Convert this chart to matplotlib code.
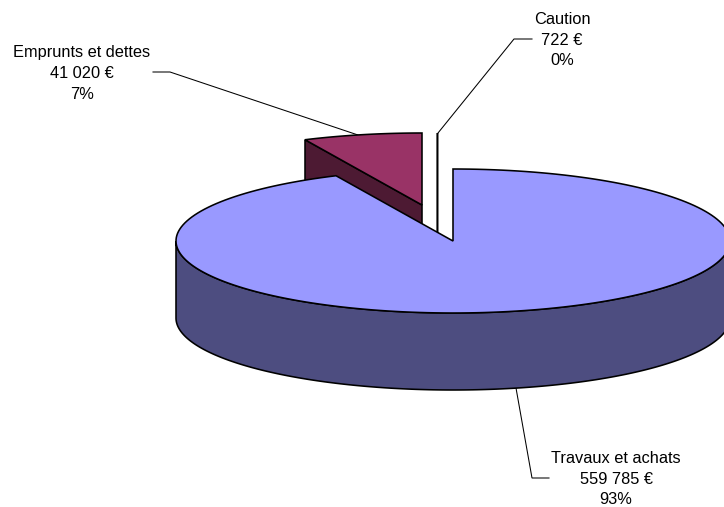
import numpy as np
import matplotlib
matplotlib.use("Agg")
import matplotlib.pyplot as plt
from matplotlib.patches import Polygon

plt.rcParams['font.family'] = ['Liberation Sans', 'DejaVu Sans']

categories = ["Travaux et achats", "Caution", "Emprunts et dettes"]
values = [559785, 722, 41020]
value_labels = ["559 785 €", "722 €", "41 020 €"]
pct_labels = ["93%", "0%", "7%"]

top_colors = ["#9999FF", "#000000", "#993366"]
side_colors = ["#4D4D80", "#000000", "#4D1A33"]
apexes = [(453, 241), (436.4, 205), (422, 205)]
label_pos = [(616, 463), (562, 24), (82, 57.5)]
leaders = [
    [(516, 388), (532, 478), (549, 478)],
    [(532, 39), (514, 39), (438, 133)],
    [(153, 72), (170, 72), (358, 135)],
]
RX, RY, DEPTH = 277, 72, 77

fig = plt.figure(figsize=(7.24, 5.07), dpi=100, facecolor="white")
ax = fig.add_axes([0, 0, 1, 1])
ax.set_xlim(0, 724)
ax.set_ylim(507, 0)
ax.axis("off")

fractions = np.array(values, dtype=float) / sum(values)
edges = np.concatenate([[0], np.cumsum(fractions)]) * 2 * np.pi


def rim(apex, a0, a1, n=200):
    t = np.linspace(a0, a1, n)
    return np.column_stack([apex[0] + RX * np.sin(t), apex[1] - RY * np.cos(t)])


LW = 1.15


def draw_main():
    apex = apexes[0]
    front = rim(apex, np.pi / 2, 3 * np.pi / 2)
    wall = np.vstack([front, (front + [0, DEPTH])[::-1]])
    ax.add_patch(Polygon(wall, closed=True, fc=side_colors[0], ec="black", lw=LW, zorder=4))
    top = np.vstack([[apex], rim(apex, edges[0], edges[1])])
    ax.add_patch(Polygon(top, closed=True, fc=top_colors[0], ec="black", lw=LW,
                         joinstyle="miter", zorder=4.5))


def draw_emprunts():
    # the slice closes the pie: it runs from the end of the large slice to the top
    apex = apexes[2]
    a0, a1 = edges[1], edges[3]
    p = rim(apex, a0, a0, 1)[0]
    face = [apex, p, p + [0, DEPTH], np.array(apex) + [0, DEPTH]]
    ax.add_patch(Polygon(face, closed=True, fc=side_colors[2], ec="black", lw=LW, zorder=2))
    top = np.vstack([[apex], rim(apex, a0, a1)])
    ax.add_patch(Polygon(top, closed=True, fc=top_colors[2], ec="black", lw=LW,
                         joinstyle="miter", zorder=2.5))


def draw_caution():
    # sliver seen edge-on: it reads as one thick vertical stroke
    apex = apexes[1]
    span = edges[2] - edges[1]
    arc = rim(apex, 0, span, 10)
    body = np.vstack([arc, (arc + [0, DEPTH + 72])[::-1]])
    ax.add_patch(Polygon(body, closed=True, fc=top_colors[1], ec="none", zorder=3))


draw_emprunts()
draw_caution()
draw_main()

for line in leaders:
    xs, ys = zip(*line)
    ax.plot(xs, ys, color="black", lw=0.75, zorder=1, solid_joinstyle="miter")

for i, (x, y) in enumerate(label_pos):
    for j, s in enumerate([categories[i], value_labels[i], pct_labels[i]]):
        ax.text(x, y + 20.6 * j, s, ha="center", va="baseline", fontsize=11.8, color="black")

fig.savefig("out.png", dpi=100)
